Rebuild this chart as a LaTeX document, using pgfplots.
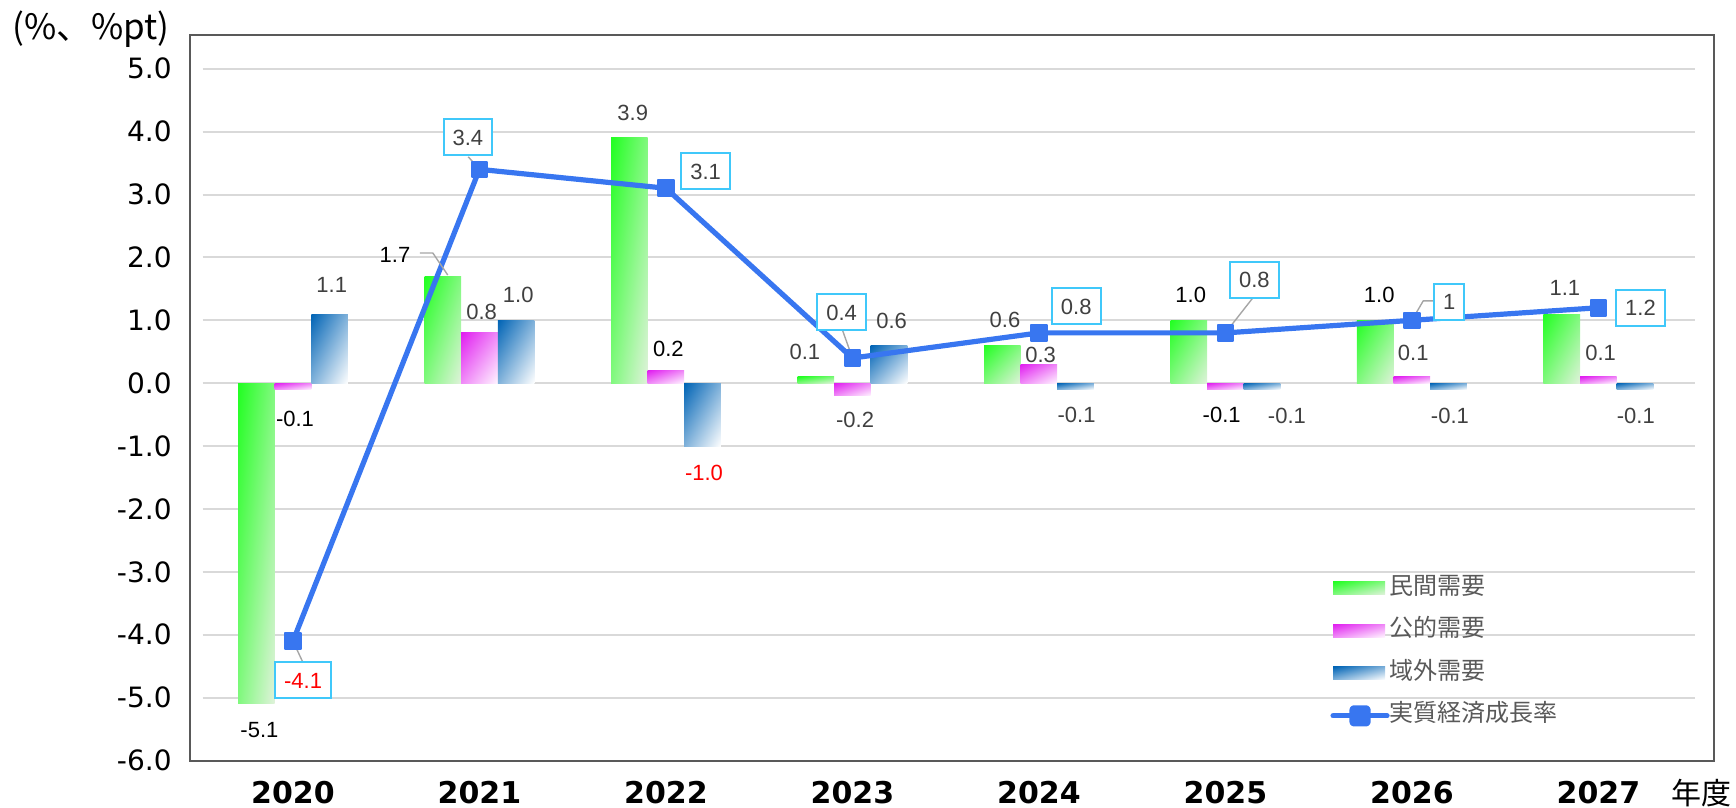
\documentclass[border=0pt]{standalone}
\usepackage{pgfplots}
\pgfplotsset{compat=1.18}
\usepackage{fontspec}
\setmainfont{Liberation Sans}
\newfontfamily\dv{DejaVu Sans}
\newfontfamily\jp{Noto Sans CJK JP}
\definecolor{framec}{HTML}{595959}
\definecolor{gridc}{HTML}{D9D9D9}
\definecolor{linec}{RGB}{56,118,240}
\definecolor{boxc}{RGB}{64,200,250}
\definecolor{lblc}{HTML}{404040}
\definecolor{legc}{HTML}{595959}
\definecolor{redc}{RGB}{255,0,0}
\definecolor{leadc}{HTML}{A6A6A6}
% diagonal (bounding-box normalised) gradients: top-left -> bottom-right
\pgfdeclarefunctionalshading{gdiag}{\pgfpoint{-50bp}{-50bp}}{\pgfpoint{50bp}{50bp}}{}{
  sub 50 add 100 div dup 0 lt {pop 0} if dup 1 gt {pop 1} if
  dup 0.75 mul 0.13 add exch dup -0.05 mul 1.0 add exch 0.73 mul 0.13 add }
\pgfdeclarefunctionalshading{mdiag}{\pgfpoint{-50bp}{-50bp}}{\pgfpoint{50bp}{50bp}}{}{
  sub 50 add 100 div dup 0 lt {pop 0} if dup 1 gt {pop 1} if
  dup 0.12 mul 0.88 add exch dup 0.84 mul 0.12 add exch 0.06 mul 0.94 add }
\pgfdeclarefunctionalshading{bdiag}{\pgfpoint{-50bp}{-50bp}}{\pgfpoint{50bp}{50bp}}{}{
  sub 50 add 100 div dup 0 lt {pop 0} if dup 1 gt {pop 1} if
  dup 1.0 mul 0.0 add exch dup 0.61 mul 0.39 add exch 0.29 mul 0.71 add }
\tikzset{
  gshade/.style={shade, shading=gdiag},
  mshade/.style={shade, shading=mdiag},
  bshade/.style={shade, shading=bdiag},
  lbl/.style={font=\fontsize{11}{13}\selectfont, text=lblc, inner sep=0pt, anchor=center},
  lblk/.style={lbl, text=black},
  lblr/.style={lbl, text=redc},
  vbox/.style={draw=boxc, line width=1pt, fill=white, font=\fontsize{11}{13}\selectfont, text=lblc, inner xsep=4.5pt, inner ysep=0pt, minimum height=18pt, text height=8pt, text depth=0pt, anchor=center},
  leader/.style={draw=leadc, line width=0.7pt}
}
\pgfplotsset{
  gbar/.style={ybar, bar width=18.3pt, bar shift=-18.3pt, draw=none, gshade,
    legend image code/.code={\path[gshade] (0pt,-3.2pt) rectangle (26pt,3.2pt);}},
  mbar/.style={ybar, bar width=18.3pt, bar shift=0pt, draw=none, mshade,
    legend image code/.code={\path[mshade] (0pt,-3.2pt) rectangle (26pt,3.2pt);}},
  bbar/.style={ybar, bar width=18.3pt, bar shift=18.3pt, draw=none, bshade,
    legend image code/.code={\path[bshade] (0pt,-3.2pt) rectangle (26pt,3.2pt);}},
}
\begin{document}
\begin{tikzpicture}
\useasboundingbox (-95.2pt,-23.7pt) rectangle (772.8pt,380.3pt);
\begin{axis}[
  at={(0,0)}, anchor=south west,
  scale only axis, width=761.8pt, height=362.6pt,
  xmin=-0.55, xmax=7.62, ymin=-6, ymax=5.53,
  clip=false,
  axis line style={draw=framec, line width=1pt},
  major tick length=0pt,
  xtick={0,...,7},
  xticklabels={2020,2021,2022,2023,2024,2025,2026,2027},
  xticklabel style={font=\dv\bfseries\fontsize{15}{17}\selectfont, anchor=center, inner sep=0pt, yshift=-16.2pt},
  ytick={-6,...,5},
  yticklabel style={font=\dv\fontsize{14}{16}\selectfont, anchor=east, inner sep=0pt, xshift=-9.2pt,
    /pgf/number format/.cd, fixed, fixed zerofill, precision=1, assume math mode=true},
  legend style={at={(0.748,0.255)}, anchor=north west, draw=none, fill=none, inner sep=0pt,
    font=\jp\fontsize{12}{14}\selectfont, text=legc, row sep=9.3pt,
    nodes={inner sep=0pt, text height=9pt, text depth=3pt},
    /tikz/every even column/.append style={column sep=3pt}},
  legend cell align=left,
]
\pgfplotsinvokeforeach{-5,-4,-3,-2,-1,0,1,2,3,4,5}{
  \draw[gridc, line width=1pt] (axis cs:-0.484,#1) -- (axis cs:7.517,#1);
}
% 民間需要
\addplot[gbar] coordinates {(0,-5.1)};
\addlegendentry{民間需要}
\addplot[gbar, forget plot] coordinates {(1,1.7)};
\addplot[gbar, forget plot] coordinates {(2,3.9)};
\addplot[gbar, forget plot] coordinates {(3,0.1)};
\addplot[gbar, forget plot] coordinates {(4,0.6)};
\addplot[gbar, forget plot] coordinates {(5,1.0)};
\addplot[gbar, forget plot] coordinates {(6,1.0)};
\addplot[gbar, forget plot] coordinates {(7,1.1)};
% 公的需要
\addplot[mbar] coordinates {(0,-0.1)};
\addlegendentry{公的需要}
\addplot[mbar, forget plot] coordinates {(1,0.8)};
\addplot[mbar, forget plot] coordinates {(2,0.2)};
\addplot[mbar, forget plot] coordinates {(3,-0.2)};
\addplot[mbar, forget plot] coordinates {(4,0.3)};
\addplot[mbar, forget plot] coordinates {(5,-0.1)};
\addplot[mbar, forget plot] coordinates {(6,0.1)};
\addplot[mbar, forget plot] coordinates {(7,0.1)};
% 域外需要
\addplot[bbar] coordinates {(0,1.1)};
\addlegendentry{域外需要}
\addplot[bbar, forget plot] coordinates {(1,1.0)};
\addplot[bbar, forget plot] coordinates {(2,-1.0)};
\addplot[bbar, forget plot] coordinates {(3,0.6)};
\addplot[bbar, forget plot] coordinates {(4,-0.1)};
\addplot[bbar, forget plot] coordinates {(5,-0.1)};
\addplot[bbar, forget plot] coordinates {(6,-0.1)};
\addplot[bbar, forget plot] coordinates {(7,-0.1)};
% 実質経済成長率
\addplot[sharp plot, draw=linec, line width=2.6pt, line join=round,
  mark=square*, mark size=3.9pt, mark options={fill=linec, draw=linec, line width=1pt, line join=round},
  legend image code/.code={\draw[linec, line width=2.6pt, line cap=round] (0pt,0pt) -- (27pt,0pt);
     \fill[linec, rounded corners=1pt] (9.5pt,-4pt) rectangle (17.5pt,4pt);}]
  coordinates {(0,-4.1) (1,3.4) (2,3.1) (3,0.4) (4,0.8) (5,0.8) (6,1.0) (7,1.2)};
\addlegendentry{実質経済成長率}
% leader lines
\draw[leader] (axis cs:0,-4.1) -- (axis cs:0.052,-4.43);
\draw[leader] (axis cs:0.68,2.07) -- (axis cs:0.75,2.07) -- (axis cs:0.83,1.72);
\draw[leader] (axis cs:0.94,3.60) -- (axis cs:1,3.4);
\draw[leader] (axis cs:2.948,0.833) -- (axis cs:3.0,0.4);
\draw[leader] (axis cs:5.149,1.364) -- (axis cs:5.0,0.8);
\draw[leader] (axis cs:6.123,1.31) -- (axis cs:6.061,1.31) -- (axis cs:6.0,1.0);
% bar labels
\node[lblk] at (axis cs:-0.18,-5.515) {-5.1};
\node[lblk] at (axis cs:0.011,-0.56) {-0.1};
\node[lbl] at (axis cs:0.208,1.56) {1.1};
\node[lblk] at (axis cs:0.547,2.04) {1.7};
\node[lbl] at (axis cs:1.012,1.135) {0.8};
\node[lbl] at (axis cs:1.208,1.40) {1.0};
\node[lbl] at (axis cs:1.822,4.29) {3.9};
\node[lblk] at (axis cs:2.013,0.553) {0.2};
\node[lblr] at (axis cs:2.204,-1.434) {-1.0};
\node[lbl] at (axis cs:2.745,0.50) {0.1};
\node[lbl] at (axis cs:3.014,-0.587) {-0.2};
\node[lbl] at (axis cs:3.21,0.99) {0.6};
\node[lbl] at (axis cs:3.818,1.0) {0.6};
\node[lbl] at (axis cs:4.009,0.447) {0.3};
\node[lbl] at (axis cs:4.202,-0.507) {-0.1};
\node[lblk] at (axis cs:4.814,1.40) {1.0};
\node[lblk] at (axis cs:4.98,-0.507) {-0.1};
\node[lbl] at (axis cs:5.33,-0.52) {-0.1};
\node[lblk] at (axis cs:5.825,1.40) {1.0};
\node[lbl] at (axis cs:6.007,0.483) {0.1};
\node[lbl] at (axis cs:6.204,-0.523) {-0.1};
\node[lbl] at (axis cs:6.82,1.507) {1.1};
\node[lbl] at (axis cs:7.012,0.483) {0.1};
\node[lbl] at (axis cs:7.201,-0.523) {-0.1};
% line labels
\node[vbox, text=redc] at (axis cs:0.054,-4.725) {-4.1};
\node[vbox] at (axis cs:0.938,3.91) {3.4};
\node[vbox] at (axis cs:2.213,3.367) {3.1};
\node[vbox] at (axis cs:2.942,1.126) {0.4};
\node[vbox] at (axis cs:4.200,1.223) {0.8};
\node[vbox] at (axis cs:5.155,1.647) {0.8};
\node[vbox] at (axis cs:6.200,1.294) {1};
\node[vbox] at (axis cs:7.226,1.199) {1.2};
% axis texts
\node[font=\jp\fontsize{15}{17}\selectfont, anchor=center, inner sep=0pt] at ([yshift=-16.2pt]rel axis cs:0.992,0) {年度};
\node[font=\jp\fontsize{17.5}{19}\selectfont, anchor=west, inner sep=0pt] at ([xshift=-89.2pt, yshift=3.2pt]rel axis cs:0,1) {(\%、\%pt)};
\end{axis}
\end{tikzpicture}
\end{document}
